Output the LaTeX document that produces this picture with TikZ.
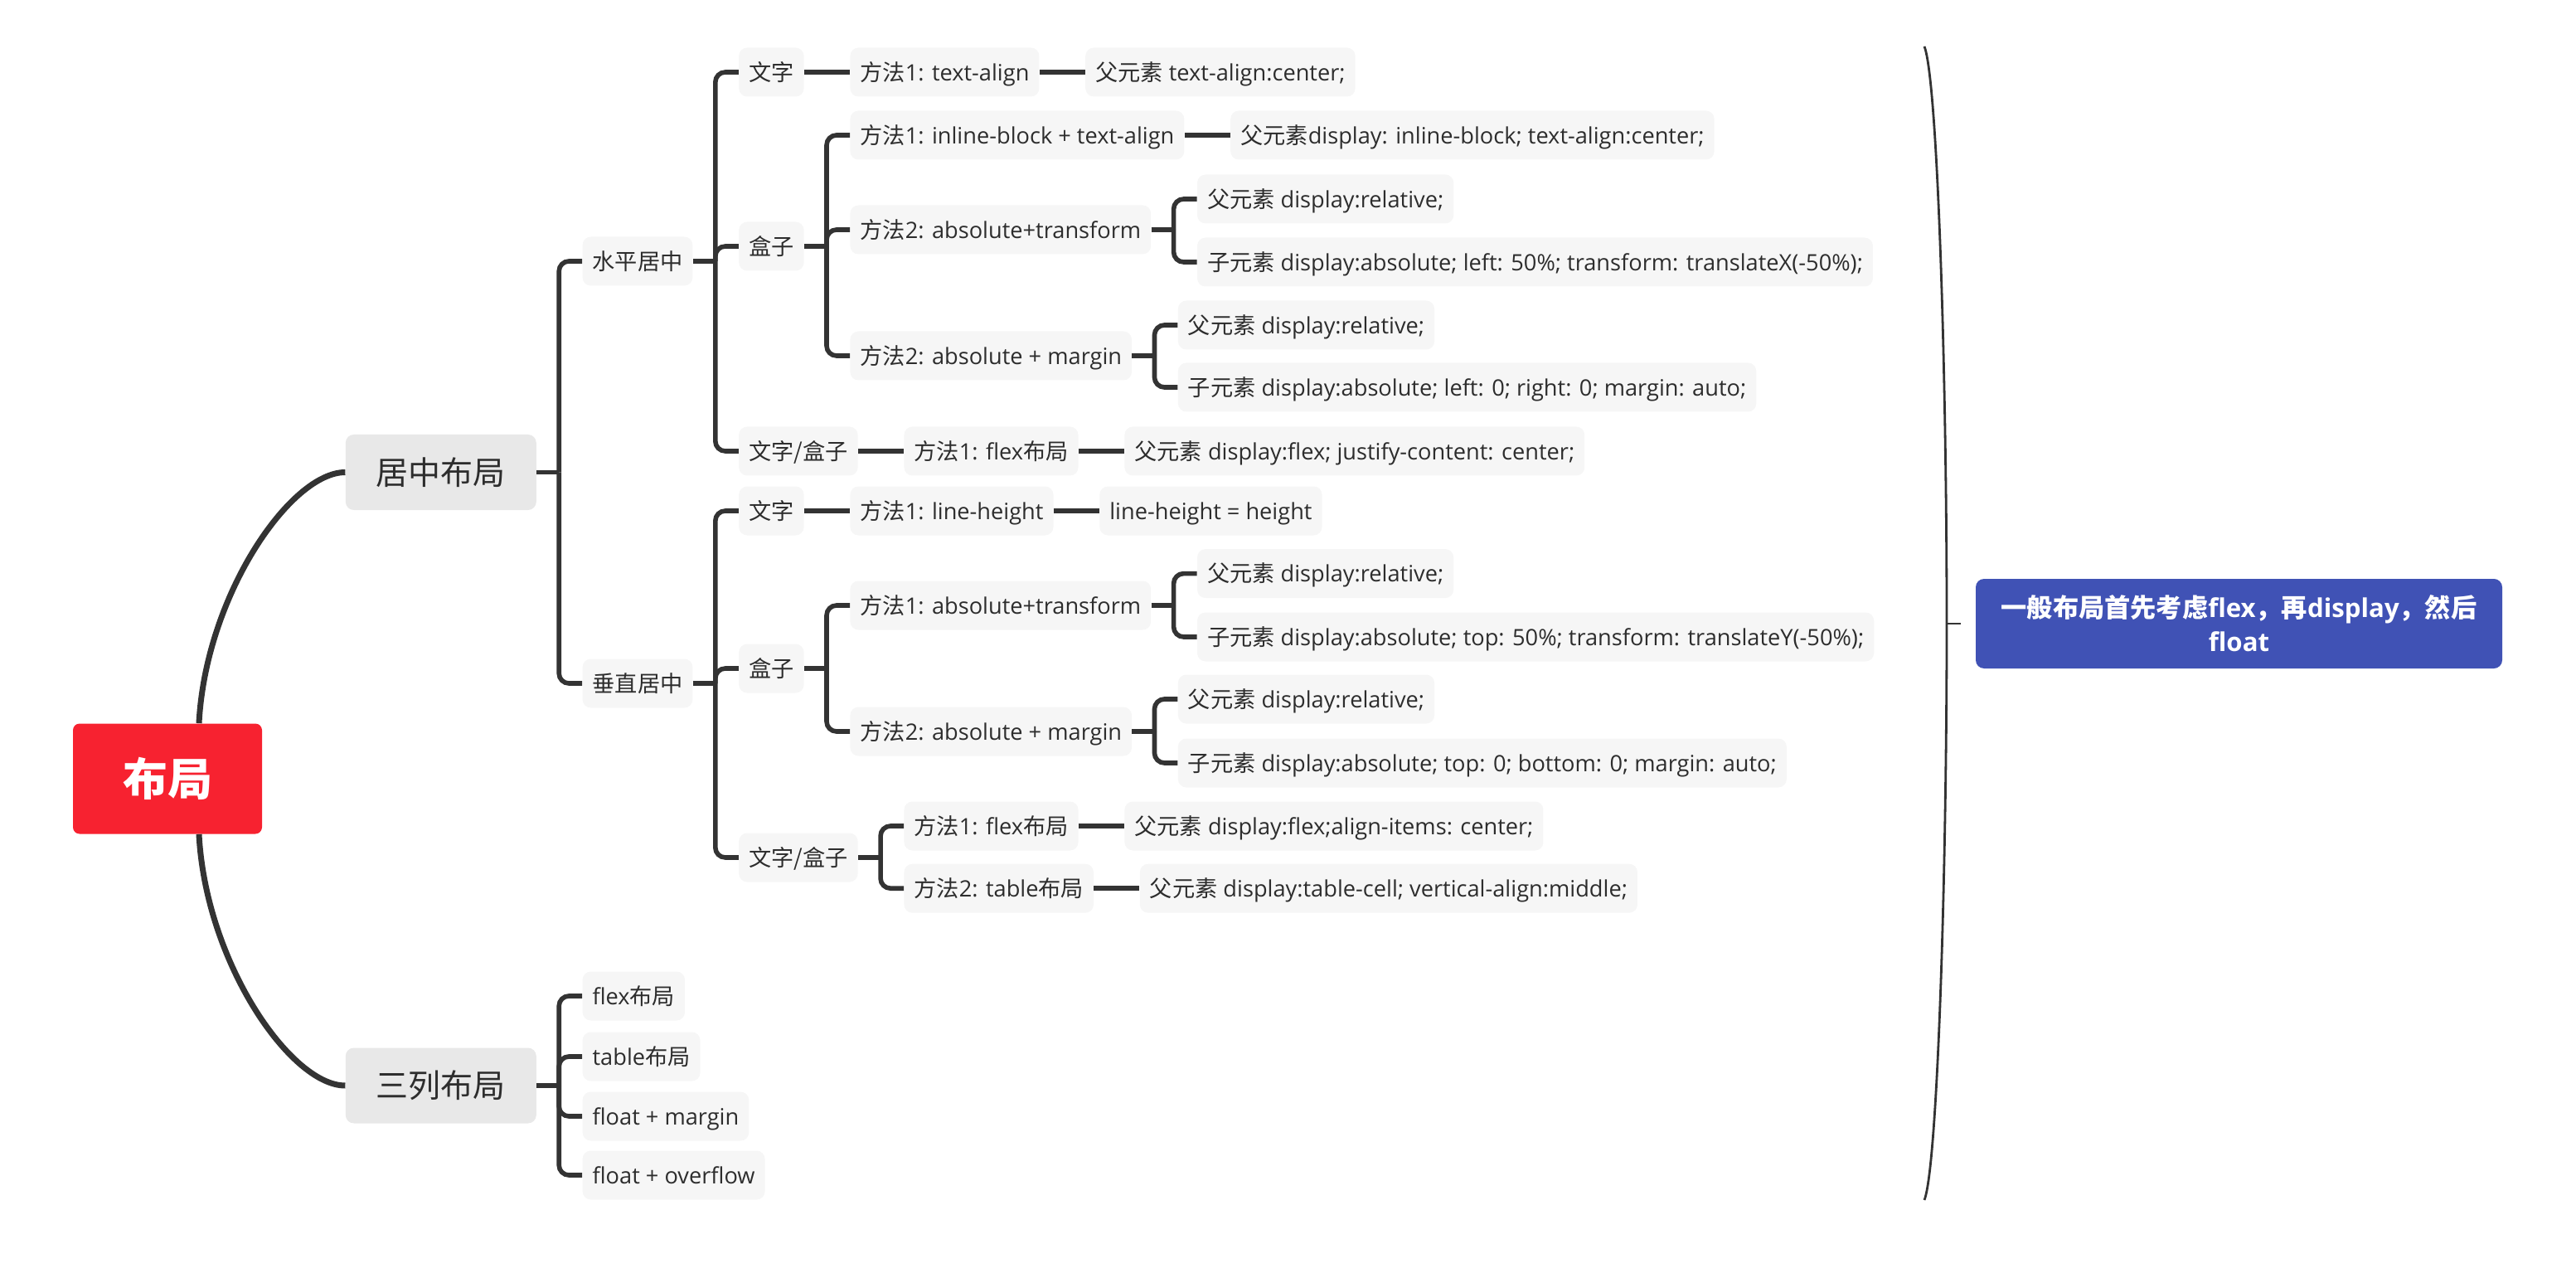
\documentclass[tikz,border=0pt]{standalone}
\usepackage{fontspec}
\setmainfont{Open Sans}
\newfontfamily\cjk{Noto Sans CJK SC}
\usepackage{tikz}
\usepackage{xcolor}
\usetikzlibrary{calc}
\definecolor{rootred}{RGB}{247,34,48}
\definecolor{topicgray}{RGB}{232,232,232}
\definecolor{subgray}{RGB}{246,246,246}
\definecolor{textgray}{RGB}{45,45,45}
\definecolor{linegray}{RGB}{51,51,51}
\definecolor{tipblue}{RGB}{64,82,181}

\begin{document}
\begin{tikzpicture}[x=1pt,y=-1pt]
\tikzstyle{rootnode}=[fill=rootred,rounded corners=4pt,text=white,font=\cjk\bfseries\fontsize{27}{32}\selectfont,minimum width=114pt,minimum height=66.5pt,inner sep=0pt]
\tikzstyle{topic}=[fill=topicgray,rounded corners=5pt,text=textgray,font=\cjk\fontsize{19.5}{23}\selectfont,minimum height=45.5pt,inner xsep=18.5pt,inner ysep=0pt,anchor=west,xshift=50pt]
\tikzstyle{subtopic}=[fill=subgray,rounded corners=5pt,text=textgray,font=\fontsize{13.6}{16}\selectfont,minimum height=29.5pt,inner xsep=6pt,inner ysep=0pt,text height=11.9pt,text depth=1.6pt,anchor=west,xshift=27.5pt]
\tikzstyle{tipbox}=[fill=tipblue,rounded corners=5pt,text=white,font=\bfseries\fontsize{15.6}{20.5}\selectfont,align=center,minimum width=317.5pt,minimum height=54pt,inner sep=0pt]
\tikzstyle{branch}=[draw=linegray,line width=2.8pt,rounded corners=6pt]
\tikzstyle{mainline}=[draw=linegray,line width=3.5pt]
\tikzstyle{summaryline}=[draw=linegray,line width=1.4pt]
\useasboundingbox (0,0) rectangle (1553.5,767.5);

\node[rootnode] (layout) at (101,469.5) {布局};
\node[topic] (centering) at (layout.east |- 0,284.75) {居中布局};
\node[topic] (threecol) at (layout.east |- 0,654.5) {三列布局};
\draw[mainline] ([xshift=19pt]layout.north) .. controls +(4,-77) and +(-33,0) .. (centering.west);
\draw[mainline] ([xshift=19pt]layout.south) .. controls +(4,77) and +(-33,0) .. (threecol.west);

\node[subtopic] (horiz) at (centering.east |- 0,157.5) {{\cjk 水平居中}};
\node[subtopic] (vert) at (centering.east |- 0,412) {{\cjk 垂直居中}};

\node[subtopic] (hText) at (horiz.east |- 0,43.5) {{\cjk 文字}};
\node[subtopic] (hBox) at (horiz.east |- 0,148.5) {{\cjk 盒子}};
\node[subtopic] (hMixed) at (horiz.east |- 0,272) {{\cjk 文字/盒子}};
\node[subtopic] (hText1) at (hText.east) {{\cjk 方法}1: text-align};
\node[subtopic] (hText1a) at (hText1.east) {{\cjk 父元素} text-align:center;};
\node[subtopic] (hBox1) at (hBox.east |- 0,81.5) {{\cjk 方法}1: inline-block + text-align};
\node[subtopic] (hBox1a) at (hBox1.east) {{\cjk 父元素}display: inline-block; text-align:center;};
\node[subtopic] (hBox2) at (hBox.east |- 0,138.5) {{\cjk 方法}2: absolute+transform};
\node[subtopic] (hBox2a) at (hBox2.east |- 0,120) {{\cjk 父元素} display:relative;};
\node[subtopic] (hBox2b) at (hBox2.east |- 0,158) {{\cjk 子元素} display:absolute; left: 50\%; transform: translateX(-50\%);};
\node[subtopic] (hBox3) at (hBox.east |- 0,214.5) {{\cjk 方法}2: absolute + margin};
\node[subtopic] (hBox3a) at (hBox3.east |- 0,196) {{\cjk 父元素} display:relative;};
\node[subtopic] (hBox3b) at (hBox3.east |- 0,233.5) {{\cjk 子元素} display:absolute; left: 0; right: 0; margin: auto;};
\node[subtopic] (hMixed1) at (hMixed.east) {{\cjk 方法}1: flex{\cjk 布局}};
\node[subtopic] (hMixed1a) at (hMixed1.east) {{\cjk 父元素} display:flex; justify-content: center;};

\node[subtopic] (vText) at (vert.east |- 0,308) {{\cjk 文字}};
\node[subtopic] (vBox) at (vert.east |- 0,403) {{\cjk 盒子}};
\node[subtopic] (vMixed) at (vert.east |- 0,517) {{\cjk 文字/盒子}};
\node[subtopic] (vText1) at (vText.east) {{\cjk 方法}1: line-height};
\node[subtopic] (vText1a) at (vText1.east) {line-height = height};
\node[subtopic] (vBox1) at (vBox.east |- 0,365) {{\cjk 方法}1: absolute+transform};
\node[subtopic] (vBox1a) at (vBox1.east |- 0,345.8) {{\cjk 父元素} display:relative;};
\node[subtopic] (vBox1b) at (vBox1.east |- 0,384) {{\cjk 子元素} display:absolute; top: 50\%; transform: translateY(-50\%);};
\node[subtopic] (vBox2) at (vBox.east |- 0,441) {{\cjk 方法}2: absolute + margin};
\node[subtopic] (vBox2a) at (vBox2.east |- 0,421.5) {{\cjk 父元素} display:relative;};
\node[subtopic] (vBox2b) at (vBox2.east |- 0,460) {{\cjk 子元素} display:absolute; top: 0; bottom: 0; margin: auto;};
\node[subtopic] (vMixed1) at (vMixed.east |- 0,498) {{\cjk 方法}1: flex{\cjk 布局}};
\node[subtopic] (vMixed1a) at (vMixed1.east) {{\cjk 父元素} display:flex;align-items: center;};
\node[subtopic] (vMixed2) at (vMixed.east |- 0,535.6) {{\cjk 方法}2: table{\cjk 布局}};
\node[subtopic] (vMixed2a) at (vMixed2.east) {{\cjk 父元素} display:table-cell; vertical-align:middle;};

\node[subtopic] (colFlex) at (threecol.east |- 0,600.5) {flex{\cjk 布局}};
\node[subtopic] (colTable) at (threecol.east |- 0,637) {table{\cjk 布局}};
\node[subtopic] (colMargin) at (threecol.east |- 0,673) {float + margin};
\node[subtopic] (colOverflow) at (threecol.east |- 0,708.5) {float + overflow};

\foreach \p/\cs in {centering/{horiz,vert}, horiz/{hText,hBox,hMixed}, hBox/{hBox1,hBox2,hBox3},
  hBox2/{hBox2a,hBox2b}, hBox3/{hBox3a,hBox3b}, vert/{vText,vBox,vMixed}, vBox/{vBox1,vBox2},
  vBox1/{vBox1a,vBox1b}, vBox2/{vBox2a,vBox2b}, vMixed/{vMixed1,vMixed2},
  threecol/{colFlex,colTable,colMargin,colOverflow}} {
  \coordinate (\p-j) at ([xshift=13.5pt]\p.east);
  \draw[branch] (\p.east) -- (\p-j);
  \foreach \c in \cs \draw[branch] (\p-j) |- (\c.west);
}
\foreach \a/\b in {hText/hText1, hText1/hText1a, hBox1/hBox1a, hMixed/hMixed1, hMixed1/hMixed1a,
  vText/vText1, vText1/vText1a, vMixed1/vMixed1a, vMixed2/vMixed2a}
  \draw[branch] (\a.east) -- (\b.west);

\coordinate (sumTop) at (1160.5,28);
\coordinate (sumMid) at (1174,376);
\coordinate (sumBot) at (1160.5,723.5);
\coordinate (sumTip) at (1182.7,376);
\draw[summaryline] (sumTop) .. controls +(8,20) and +(0,-150) .. (sumMid) .. controls +(0,150) and +(8,-20) .. (sumBot);
\draw[summaryline] (sumMid) -- (sumTip);
\node[tipbox] (tip) at (1350.25,376) {{\cjk 一般布局首先考虑}flex{\cjk ，再}display{\cjk ，然后}\\float};
\end{tikzpicture}
\end{document}
